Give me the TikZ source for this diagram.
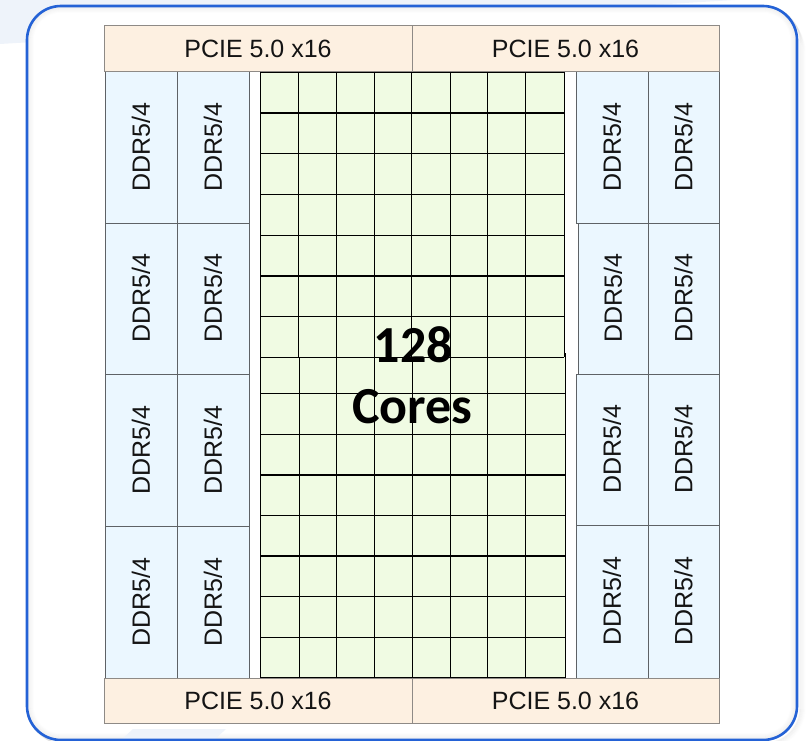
\documentclass[tikz,border=0pt]{standalone}
\usepackage{fontspec}
\newfontfamily\labfont{Liberation Sans}
\newfontfamily\corefont{Carlito}
\definecolor{bgtint}{HTML}{EEF3FA}
\definecolor{boxblue}{HTML}{2462D6}
\definecolor{pciefill}{HTML}{FDF0E1}
\definecolor{pcieline}{HTML}{8E8A86}
\definecolor{ddrfill}{HTML}{EBF7FF}
\definecolor{ddrline}{HTML}{5E6266}
\definecolor{coregreen}{HTML}{F0FBE3}
\definecolor{shadowgray}{HTML}{7A7A7A}
\tikzset{
  pcie/.style={draw=pcieline, fill=pciefill, line width=1pt, inner sep=0pt,
    font=\labfont\fontsize{25}{30}\selectfont, text=black!92},
  ddr/.style={draw=ddrline, fill=ddrfill, line width=1pt, inner sep=0pt, rotate=90,
    font=\labfont\fontsize{25}{30}\selectfont, text=black!92},
  gridline/.style={black, line width=1.3pt},
  corelabel/.style={font=\corefont\bfseries\fontsize{52}{62}\selectfont, anchor=base, inner sep=0pt}
}
\begin{document}
\begin{tikzpicture}[x=1pt,y=-1pt]
\useasboundingbox (0,0) rectangle (808,741);
% background tint
\fill[bgtint] (0,0) -- (735,0) -- (0,44) -- cycle;
% outer panel with shadow
\foreach \i in {1,...,6}
  \draw[shadowgray, opacity={0.09-0.013*\i}, line width=1.4pt, rounded corners={34pt+\i pt}]
    ({27+\i},{6+\i}) rectangle ({799+\i},{742+\i});
\fill[white, rounded corners=34pt] (27,6) rectangle (797,740);
\foreach \i in {1,...,6}
  \draw[shadowgray, opacity={0.10-0.015*\i}, line width=1.3pt, rounded corners={34pt-\i pt}]
    ({27+\i},{6+\i}) rectangle ({797-\i},{740-\i});
\fill[bgtint] (120,741) -- (133,729) -- (226,729) -- (213,741) -- cycle;
\draw[boxblue, line width=2.6pt, rounded corners=34pt] (27,6) rectangle (797,740);

% bottom core grid (8 x 8)
\fill[coregreen] (260.7,353) rectangle (565.3,678);
\foreach \x in {260.7,299.3,336.3,374.3,412.7,450.3,487.3,525.7,565.3}
  \draw[gridline] (\x,353) -- (\x,678);
\foreach \k in {0,...,8}
  \draw[gridline] (260.7,{353+40.625*\k}) -- (565.3,{353+40.625*\k});
% top core grid (8 x 7)
\fill[coregreen] (260.7,72.3) rectangle (564.3,357.3);
\foreach \x in {260.7,298.3,336.3,374.3,411.7,450.3,487.3,525.7,564.3}
  \draw[gridline] (\x,72.3) -- (\x,357.3);
\foreach \k in {0,...,7}
  \draw[gridline] (260.7,{72.3+40.714*\k}) -- (564.3,{72.3+40.714*\k});

\node[corelabel] (n128) at (413.5,362) {128};
\node[corelabel] (ncores) at (412.5,423) {Cores};

% DDR left
\node[ddr, minimum width=151pt, minimum height=72pt] (l11) at (141,147.5) {DDR5/4};
\node[ddr, minimum width=151pt, minimum height=72pt] (l12) at (213,147.5) {DDR5/4};
\node[ddr, minimum width=151pt, minimum height=72pt] (l21) at (141,298.5) {DDR5/4};
\node[ddr, minimum width=151pt, minimum height=72pt] (l22) at (213,298.5) {DDR5/4};
\node[ddr, minimum width=152pt, minimum height=72pt] (l31) at (141,450) {DDR5/4};
\node[ddr, minimum width=152pt, minimum height=72pt] (l32) at (213,450) {DDR5/4};
\node[ddr, minimum width=152pt, minimum height=72pt] (l41) at (141,602) {DDR5/4};
\node[ddr, minimum width=152pt, minimum height=72pt] (l42) at (213,602) {DDR5/4};
% DDR right
\node[ddr, minimum width=151pt, minimum height=72pt] (r11) at (612,147.5) {DDR5/4};
\node[ddr, minimum width=151pt, minimum height=71pt] (r12) at (683.5,147.5) {DDR5/4};
\node[ddr, minimum width=151pt, minimum height=70pt] (r21) at (613,298.5) {DDR5/4};
\node[ddr, minimum width=151pt, minimum height=71pt] (r22) at (683.5,298.5) {DDR5/4};
\node[ddr, minimum width=151pt, minimum height=72pt] (r31) at (612,449.5) {DDR5/4};
\node[ddr, minimum width=151pt, minimum height=71pt] (r32) at (683.5,449.5) {DDR5/4};
\node[ddr, minimum width=153pt, minimum height=72pt] (r41) at (612,601.5) {DDR5/4};
\node[ddr, minimum width=153pt, minimum height=71pt] (r42) at (683.5,601.5) {DDR5/4};

% PCIE
\node[pcie, minimum width=308pt, minimum height=46pt] (pt1) at (258,49) {PCIE 5.0 x16};
\node[pcie, minimum width=307pt, minimum height=46pt] (pt2) at (565.5,49) {PCIE 5.0 x16};
\node[pcie, minimum width=308pt, minimum height=45pt] (pb1) at (258,700.5) {PCIE 5.0 x16};
\node[pcie, minimum width=307pt, minimum height=45pt] (pb2) at (565.5,700.5) {PCIE 5.0 x16};
\end{tikzpicture}
\end{document}
